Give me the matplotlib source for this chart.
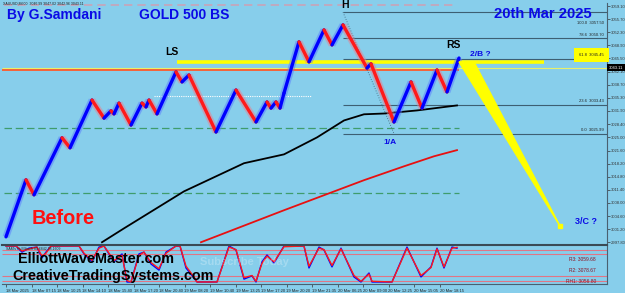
import numpy as np
import matplotlib.pyplot as plt
from matplotlib.patches import Polygon

# ---- data ----
# renko-like price path (bar, price)
price_x = [2, 22, 30, 58, 66, 88, 100, 107, 110, 115, 127, 138, 142, 145, 153, 172, 178, 185,
           212, 232, 252, 263, 267, 272, 276, 280, 295, 305, 320, 328, 339, 363, 367, 390,
           407, 418, 433, 443, 455]
price_y = [2999.2, 3014.0, 3010.1, 3024.9, 3022.3, 3034.7, 3030.0, 3031.9, 3031.1, 3033.9,
           3028.2, 3033.9, 3032.9, 3034.7, 3031.1, 3042.0, 3039.4, 3041.2, 3026.4, 3037.3,
           3029.0, 3034.2, 3032.6, 3034.2, 3032.6, 3036.5, 3049.8, 3044.6, 3052.9, 3049.0,
           3054.2, 3043.0, 3044.1, 3029.0, 3039.4, 3032.6, 3042.5, 3036.8, 3045.6]

# moving averages
ma_black_x = [98, 120, 180, 240, 280, 313, 340, 360, 380, 413, 453]
ma_black_y = [2997.8, 3001.4, 3011.0, 3018.3, 3020.6, 3025.0, 3029.4, 3031.0, 3031.2, 3032.0, 3033.3]
ma_red_x = [197, 233, 280, 320, 360, 400, 430, 453]
ma_red_y = [2997.8, 3001.4, 3006.1, 3010.0, 3013.9, 3017.5, 3020.1, 3021.7]

# fibonacci levels drawn from H
fib_pct = ["100.0", "78.6", "61.8", "23.6", "0.0"]
fib_price = [3057.50, 3050.70, 3045.45, 3033.43, 3025.99]

# stochastic (bar, value)
stoch_x = [2, 12, 18, 25, 33, 38, 42, 47, 75, 80, 88, 95, 100, 110, 118, 123, 127, 135, 140,
           147, 155, 162, 172, 176, 182, 190, 193, 213, 225, 232, 240, 248, 252, 258, 263, 270,
           280, 300, 305, 315, 320, 328, 337, 350, 357, 365, 368, 388, 403, 417, 427, 433, 440,
           448, 453]
stoch_k = [100, 100, 83, 94, 97, 67, 83, 100, 100, 78, 56, 97, 100, 56, 78, 0, 0, 78, 83,
           50, 33, 83, 100, 100, 39, 11, 0, 0, 100, 89, 8, 17, 0, 56, 75, 53,
           100, 100, 39, 97, 89, 42, 94, 14, 0, 25, 0, 0, 97, 14, 42, 94, 39,
           97, 94]
stoch_d = [100, 100, 86, 92, 97, 72, 80, 100, 100, 80, 60, 94, 100, 60, 74, 4, 0, 74, 83,
           54, 37, 80, 100, 100, 44, 14, 0, 0, 97, 90, 12, 18, 2, 52, 72, 56,
           98, 100, 44, 94, 90, 46, 92, 18, 2, 22, 2, 0, 94, 18, 40, 92, 42,
           94, 96]
stoch_levels = [89, 78, 17, 3]

price_ticks = [3059.10, 3055.70, 3052.30, 3048.90, 3045.50, 3042.10, 3038.70, 3035.30,
               3031.90, 3028.40, 3025.00, 3021.60, 3018.20, 3014.80, 3011.40, 3008.00,
               3004.60, 3001.20, 2997.80]
time_labels = ["18 Mar 2025", "18 Mar 07:15", "18 Mar 10:25", "18 Mar 14:10", "18 Mar 15:40",
               "18 Mar 17:20", "18 Mar 20:40", "19 Mar 08:20", "19 Mar 10:40", "19 Mar 13:25",
               "19 Mar 17:20", "19 Mar 20:20", "19 Mar 21:35", "20 Mar 06:25", "20 Mar 09:00",
               "20 Mar 12:25", "20 Mar 15:05", "20 Mar 18:15"]
time_ticks = [2, 27.5, 53, 78.5, 104, 129.5, 155, 180.5, 206, 231.5, 257, 282.5, 308, 333.5,
              359, 384.5, 410, 435.5]

last_price = 3043.11
neckline = 3044.6
wedge_x = [455, 470, 556]
wedge_y = [3044.6, 3044.6, 3002.0]

bg = '#87ceeb'
plt.rcParams['font.family'] = ['Liberation Sans', 'DejaVu Sans']

fig = plt.figure(figsize=(6.25, 2.93), dpi=100, facecolor=bg)
ax = fig.add_axes([2/625, 1-245/293, 605/625, 242/293], facecolor=bg)
ax2 = fig.add_axes([2/625, 1-284/293, 605/625, 39/293], facecolor=bg)

ax.set_xlim(-2, 603)
ax.set_ylim(2997.08, 3059.88)
ax2.set_xlim(-2, 603)
ax2.set_ylim(-5.6, 102.8)

# horizontal reference lines
ax.hlines(3059.36, 0, 453, color='#c9a3b8', lw=1.2, ls=(0, (5, 3)))
ax.hlines([3027.44, 3010.57], 0, 455, color='#3f9c6c', lw=0.9, ls=(0, (6, 3)))
ax.hlines(3035.74, 150, 307, color='white', lw=0.8, ls=(0, (1, 1)))
ax.hlines(last_price, -2, 603, color='#e8f06a', lw=0.8)
ax.hlines(3042.49, -2, 455, color='#ff5a2a', lw=1.3)
ax.hlines(neckline, 173, 540, color='#ffff00', lw=2.6)

# fib lines
ax.hlines(fib_price, 339, 603, color='#3d5f73', lw=0.8)
ax.plot([339, 390], [fib_price[0], fib_price[-1]], color='#3d5f73', lw=0.6, ls=(0, (1, 2)))
for pct, p in zip(fib_pct, fib_price):
    if pct == "100.0":
        # sits under the date banner, so put it just below the banner
        t = ax.text(600, p - 2.4, f"{pct}  {p:.2f}", fontsize=3, ha='right', va='top', color='#222222')
    else:
        t = ax.text(600, p + 0.4, f"{pct}  {p:.2f}", fontsize=3, ha='right', va='bottom', color='#222222')
    if pct == "61.8":
        t.set_bbox(dict(facecolor='#ffff00', edgecolor='none', pad=3.5))

# moving averages
ax.plot(ma_black_x, ma_black_y, color='black', lw=1.3)
ax.plot(ma_red_x, ma_red_y, color='#e81010', lw=1.3)

# price path: halo for wicks then coloured bricks
px = np.array(price_x)
py = np.array(price_y)
for i in range(len(px) - 1):
    up = py[i + 1] > py[i]
    halo = '#5a7cff' if up else '#e8808f'
    ax.plot(px[i:i+2], py[i:i+2], color=halo, lw=5, alpha=0.5, solid_capstyle='butt', zorder=3)
for i in range(len(px) - 1):
    up = py[i + 1] > py[i]
    col = '#0000ff' if up else '#ff1a1a'
    ax.plot(px[i:i+2], py[i:i+2], color=col, lw=2.4, solid_capstyle='round', zorder=4)

# projected drop wedge
ax.add_patch(Polygon(list(zip(wedge_x, wedge_y)), closed=True, color='#ffff00', zorder=5))
ax.plot(wedge_x[-1], wedge_y[-1], 's', color='#ffff00', ms=2.5, zorder=5)

# right price axis
ax.yaxis.tick_right()
ax.set_yticks(price_ticks)
ax.set_yticklabels([f"{v:.2f}" for v in price_ticks], fontsize=3, color='#222222')
ax.tick_params(axis='y', length=2, width=0.5, pad=1, colors='#333333')
ax.set_xticks([])
ax.text(1.003, (last_price - 2997.08) / (3059.88 - 2997.08), f"{last_price:.2f}", transform=ax.transAxes,
        fontsize=3, color='white', va='center', ha='left',
        bbox=dict(facecolor='black', edgecolor='none', pad=1.2))
for s in ['top', 'left', 'bottom']:
    ax.spines[s].set_visible(False)
ax.spines['right'].set_color('#4a6070')
ax.spines['right'].set_linewidth(0.8)

# stochastic panel
ax2.hlines(stoch_levels, -2, 603, color='#e07585', lw=0.8)
ax2.plot(stoch_x, stoch_k, color='#0000ff', lw=1.0)
ax2.plot(stoch_x, stoch_d, color='#ff1a1a', lw=1.0)
ax2.set_yticks([])
ax2.set_xticks(time_ticks)
ax2.set_xticklabels(time_labels, fontsize=3, color='#222222', ha='left')
ax2.tick_params(axis='x', length=2, width=0.5, pad=1.5, colors='#333333')
for lab in ax2.get_xticklabels():
    lab.set_color('#222222')
ax2.spines['top'].set_color('#3a4a55')
ax2.spines['top'].set_linewidth(1.5)
ax2.spines['bottom'].set_color('#4a6070')
ax2.spines['right'].set_color('#4a6070')
ax2.spines['left'].set_visible(False)
ax2.text(2, 96, "SAM's Hull/Stoch 89.6842 98.1609", fontsize=2.5, color='#222222', va='top')
for i, s in enumerate(["R3: 3059.68", "R2: 3078.67", "RH1: 3056.80"]):
    ax2.text(592, 62 - i * 30, s, fontsize=3.5, color='#8b1020', ha='right', va='center')

# annotations
fig.text(3/625, 1-4/293, "XAUUSD,M500  3046.99 3047.02 3042.96 3043.11", fontsize=2.5, color='#222222', va='center')
fig.text(7/625, 1-15/293, "By G.Samdani", fontsize=10, weight='bold', color='#0a0ae6', va='center')
fig.text(139/625, 1-15/293, "GOLD 500 BS", fontsize=10, weight='bold', color='#0a0ae6', va='center')
fig.text(494/625, 1-14/293, "20th Mar 2025", fontsize=10.6, weight='bold', color='#0a0ae6', va='center')
fig.text(345/625, 1-5/293, "H", fontsize=7.5, weight='bold', color='black', ha='center', va='center')
fig.text(172/625, 1-52/293, "LS", fontsize=7.5, weight='bold', color='black', ha='center', va='center')
fig.text(453/625, 1-45/293, "RS", fontsize=7.5, weight='bold', color='black', ha='center', va='center')
fig.text(470/625, 1-54/293, "2/B ?", fontsize=6, weight='bold', color='#0a0ae6', va='center')
fig.text(390/625, 1-143/293, "1/A", fontsize=6, weight='bold', color='#0a0ae6', ha='center', va='center')
fig.text(586/625, 1-221/293, "3/C ?", fontsize=6.5, weight='bold', color='#0a0ae6', ha='center', va='center')
fig.text(32/625, 1-218/293, "Before", fontsize=14.3, weight='bold', color='#ff1010', va='center')
fig.text(200/625, 1-262/293, "Subscribe Today", fontsize=8, weight='bold', color='white', alpha=0.25, va='center')
fig.text(18/625, 1-259/293, "ElliottWaveMaster.com", fontsize=10.4, weight='bold', color='black', va='center')
fig.text(12/625, 1-276/293, "CreativeTradingSystems.com", fontsize=10.4, weight='bold', color='black', va='center')

plt.savefig('out.png', dpi=100, facecolor=bg)
